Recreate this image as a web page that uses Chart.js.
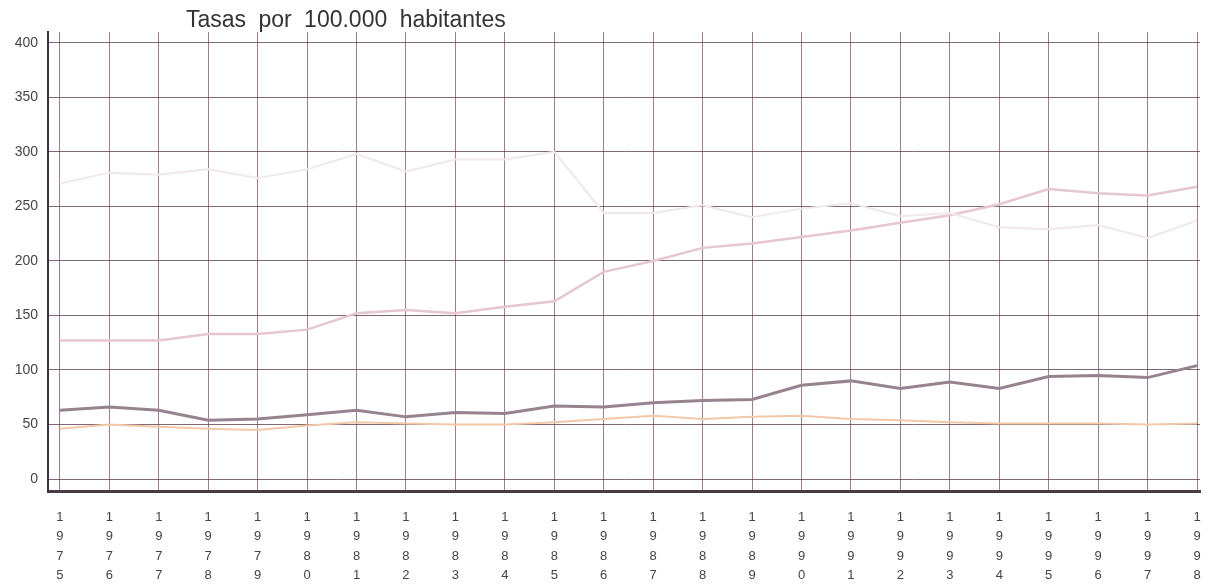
<!DOCTYPE html>
<html>
<head>
<meta charset="utf-8">
<script src="https://cdn.jsdelivr.net/npm/chart.js@4/dist/chart.umd.min.js"></script>
<style>
  html, body { margin: 0; padding: 0; background: #fff; }
  #wrap { position: relative; width: 1209px; height: 586px; }
  #titulo {
    position: absolute; left: 186px; top: 6px;
    font-family: 'Liberation Sans', Arial, sans-serif;
    font-size: 23px; color: #333; word-spacing: 6px;
  }
</style>
</head>
<body>
<div id="wrap">
  <div id="titulo">Tasas por 100.000 habitantes</div>
  <canvas id="grafico" width="1209" height="586"></canvas>
</div>
<script>
// Años y series
const anios = [1975, 1976, 1977, 1978, 1979, 1980, 1981, 1982, 1983, 1984, 1985, 1986,
               1987, 1988, 1989, 1990, 1991, 1992, 1993, 1994, 1995, 1996, 1997, 1998];
const serieBlanca = [271, 281, 279, 284, 276, 284, 298, 282, 293, 293, 300, 244,
                     244, 251, 240, 248, 253, 241, 244, 231, 229, 233, 221, 237];
const serieRosa = [127, 127, 127, 133, 133, 137, 152, 155, 152, 158, 163, 190,
                   200, 212, 216, 222, 228, 235, 242, 252, 266, 262, 260, 268];
const serieMalva = [63, 66, 63, 54, 55, 59, 63, 57, 61, 60, 67, 66,
                    70, 72, 73, 86, 90, 83, 89, 83, 94, 95, 93, 104];
const serieNaranja = [46, 50, 48, 46, 45, 49, 52, 51, 50, 50, 52, 55,
                      58, 55, 57, 58, 55, 54, 52, 51, 51, 51, 50, 51];
const ticksY = [0, 50, 100, 150, 200, 250, 300, 350, 400];

const fuente = "'Liberation Sans', Arial, sans-serif";

function serie(datos, color, ancho) {
    return {
        data: anios.map((a, i) => ({ x: a, y: datos[i] })),
        borderColor: color,
        borderWidth: ancho,
        pointRadius: 0,
        tension: 0,
        fill: false
    };
}

const ctx = document.getElementById('grafico').getContext('2d');
new Chart(ctx, {
    type: 'line',
    data: {
        datasets: [
            serie(serieBlanca, '#f0e8eb', 2),
            serie(serieRosa, '#e6c6cf', 2.5),
            serie(serieMalva, '#978390', 3),
            serie(serieNaranja, '#f2c8a6', 2)
        ]
    },
    options: {
        responsive: false,
        animation: false,
        layout: { padding: { top: 32, right: 9, left: 0, bottom: 0 } },
        plugins: {
            legend: { display: false },
            tooltip: { enabled: false }
        },
        scales: {
            x: {
                type: 'linear',
                min: 1974.76,
                max: 1998.06,
                afterBuildTicks: (s) => { s.ticks = anios.map(v => ({ value: v })); },
                afterFit: (s) => { s.height = 95; s.paddingLeft = 0; s.paddingRight = 0; },
                grid: { color: 'rgba(125, 70, 90, 0.7)', lineWidth: 1, drawTicks: false },
                border: { color: '#4a3a42', width: 3 },
                ticks: {
                    padding: 17,
                    maxRotation: 0,
                    autoSkip: false,
                    color: '#444',
                    font: { family: fuente, size: 13, lineHeight: 1.48 },
                    callback: (v) => String(v).split('')
                }
            },
            y: {
                min: -11,
                max: 410,
                afterBuildTicks: (s) => { s.ticks = ticksY.map(v => ({ value: v })); },
                afterFit: (s) => { s.width = 48; },
                grid: { color: 'rgba(85, 55, 65, 0.75)', lineWidth: 1, drawTicks: false },
                border: { color: '#3a2f58', width: 2 },
                ticks: {
                    padding: 10,
                    color: '#444',
                    font: { family: fuente, size: 14 }
                }
            }
        }
    }
});
</script>
</body>
</html>
